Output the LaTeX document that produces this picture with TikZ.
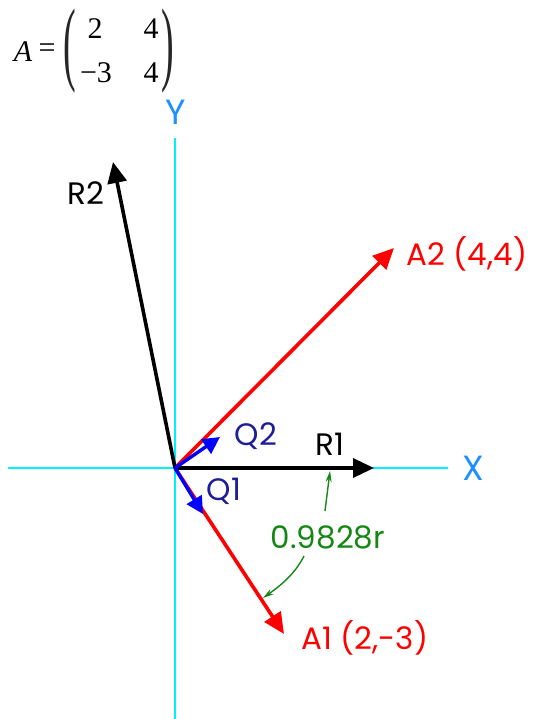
\documentclass[tikz,border=0pt]{standalone}
\usepackage{fontspec}
\newfontfamily\labfont{Poppins}
\newfontfamily\tmsfont{Liberation Serif}
\usetikzlibrary{arrows.meta}
\definecolor{axcyan}{RGB}{0,240,255}
\definecolor{axlab}{RGB}{30,144,255}
\definecolor{vred}{RGB}{255,0,0}
\definecolor{vblue}{RGB}{0,0,255}
\definecolor{qlab}{RGB}{30,30,150}
\definecolor{anng}{RGB}{20,135,20}
\tikzset{
  axis/.style={draw=axcyan,line width=1.4pt},
  axislabel/.style={text=axlab,font=\labfont\fontsize{35}{38}\selectfont},
  vec/.style={line width=3.6pt,-{Triangle[length=21pt,width=19pt]}},
  qvec/.style={line width=3.4pt,draw=vblue,-{Triangle[length=17pt,width=17pt]}},
  lab/.style={font=\labfont\fontsize{31}{34}\selectfont,inner sep=0pt},
  ann/.style={draw=anng,line width=1.4pt,-{Stealth[length=11pt,width=6pt]}},
  mat/.style={font=\tmsfont\fontsize{30}{32}\selectfont,inner sep=0pt},
  paren/.style={font=\tmsfont\fontsize{38}{40}\selectfont,inner sep=0pt,text=black!85}
}
\begin{document}
\begin{tikzpicture}[x=1pt,y=-1pt]
\useasboundingbox (0,0) rectangle (535,719);
% axes
\coordinate (O) at (175,468);
\coordinate (xl) at (8,468);
\coordinate (xr) at (448,468);
\coordinate (yt) at (175,138);
\coordinate (yb) at (175,719);
\draw[axis] (xl) -- (xr);
\draw[axis] (yt) -- (yb);
\node[axislabel] (Xl) at (473,468) {X};
\node[axislabel] (Yl) at (176,112) {Y};
% vector tips
\coordinate (A1) at (284,634);
\coordinate (A2) at (394,248);
\coordinate (R1) at (374,468);
\coordinate (R2) at (113,162);
\coordinate (Q1) at (203,514);
\coordinate (Q2) at (220,437);
% vectors
\draw[vec,draw=vred,fill=vred] (O) -- (A1);
\draw[vec,draw=vred,fill=vred] (O) -- (A2);
\draw[vec,draw=black,fill=black] (O) -- (R2);
\draw[vec,draw=black,fill=black] (O) -- (R1);
\draw[qvec,fill=vblue] (O) -- (Q1);
\draw[qvec,fill=vblue] (O) -- (Q2);
% labels
\node[lab,text=vred] (A2l) at (467,254) {A2 (4,4)};
\node[lab,text=vred] (A1l) at (365,638) {A1 (2,-3)};
\node[lab] (R2l) at (86,193) {R2};
\node[lab] (R1l) at (330,444) {R1};
\node[lab,text=qlab] (Q2l) at (256,436) {Q2};
\node[lab,text=qlab] (Q1l) at (224,491) {Q1};
% annotation
\node[lab,text=anng] (ang) at (328,537) {0.9828r};
\coordinate (angA) at (263,598);
\coordinate (angR) at (330,471);
\coordinate (s1) at (325,511);
\coordinate (s2) at (304,556);
\draw[ann] (s1) -- (angR);
\draw[ann] (s2) .. controls (295,574) and (280,586) .. (angA);
% matrix
\node[mat,font=\tmsfont\itshape\fontsize{30}{32}\selectfont] (Asym) at (23,52) {A};
\node[mat] (eq) at (47,51) {=};
\node[mat] (m11) at (95,29) {2};
\node[mat] (m12) at (151,29) {4};
\node[mat] (m21) at (96,73) {−3};
\node[mat] (m22) at (151,73) {4};
\node[paren] (lp) at (70,51) {\scalebox{1}[2.45]{(}};
\node[paren] (rp) at (168,51) {\scalebox{1}[2.45]{)}};
\end{tikzpicture}
\end{document}
